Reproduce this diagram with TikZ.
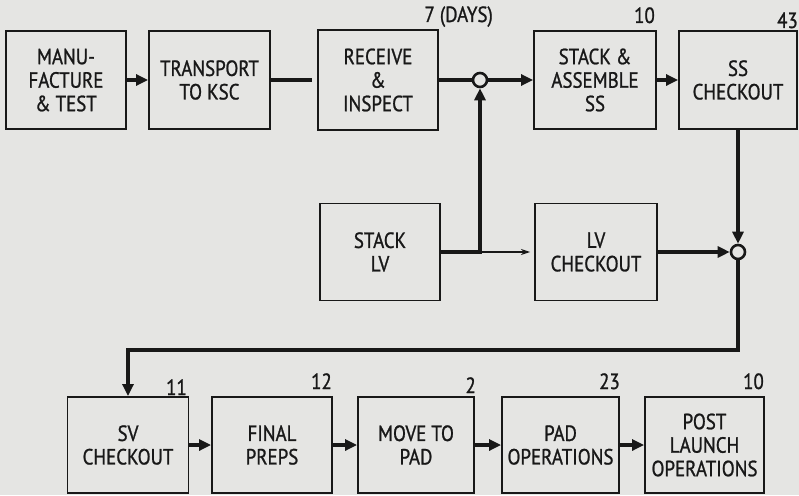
\documentclass[tikz,border=0pt]{standalone}
\usepackage{fontspec}
\setmainfont{PT Sans}[FakeStretch=0.86, FakeBold=1]
\usepackage{tikz}
\usetikzlibrary{arrows.meta,positioning}
\definecolor{paper}{RGB}{229, 229, 227}
\definecolor{ink}{RGB}{24, 24, 24}

\begin{document}
\begin{tikzpicture}[x=1pt, y=-1pt,
    box/.style={rectangle, draw=ink, line width=1.9pt, minimum width=120pt, minimum height=98pt, align=center, text=ink, inner sep=0pt, font=\fontsize{22}{23.5}\selectfont},
    arrow/.style={-{Triangle[length=12pt,width=11pt]}, line width=3.6pt, draw=ink},
    thinarrow/.style={-{Stealth[length=9pt,width=6pt]}, line width=2.5pt, draw=ink},
    link/.style={line width=3.6pt, draw=ink},
    junction/.style={circle, draw=ink, fill=paper, line width=2.6pt, minimum size=14pt, inner sep=0pt},
    days/.style={text=ink, inner sep=0pt, font=\fontsize{22}{23.5}\selectfont}
]
\fill[paper] (0,0) rectangle (799,495);
\useasboundingbox (0,0) rectangle (799,495);

% Nodes
\node[box] (manu) at (66,80) {MANU-\\FACTURE\\\& TEST};
\node[box, minimum width=121pt] (transport) at (209.5,80) {TRANSPORT\\TO KSC};
\node[box, minimum height=100pt] (receive) at (378,80) {RECEIVE\\\&\\INSPECT};
\node[box, minimum width=122pt] (stackss) at (595,80) {STACK \&\\ASSEMBLE\\SS};
\node[box, minimum width=118pt] (sscheck) at (738,80) {SS\\CHECKOUT};
\node[junction] (j1) at (480,80) {};

\node[box, minimum height=97pt] (stacklv) at (380,252) {STACK\\LV};
\node[box, minimum width=122pt, minimum height=97pt] (lvcheck) at (596,252) {LV\\CHECKOUT};
\node[junction] (j2) at (738,252) {};

\node[box, minimum width=121pt, minimum height=96pt] (svcheck) at (128,445) {SV\\CHECKOUT};
\node[box, minimum height=96pt] (final) at (272,445) {FINAL\\PREPS};
\node[box, minimum width=116pt, minimum height=96pt] (move) at (416,445) {MOVE TO\\PAD};
\node[box, minimum width=117pt, minimum height=96pt] (pad) at (560.5,445) {PAD\\OPERATIONS};
\node[box, minimum width=119pt, minimum height=96pt] (post) at (704.5,445) {POST\\LAUNCH\\OPERATIONS};

% Days
\node[days, anchor=base east] (d-receive) at (493,22) {7 (DAYS)};
\node[days, anchor=base east] (d-stackss) at (655,23) {10};
\node[days, anchor=base east] (d-sscheck) at (798,28) {43};
\node[days, anchor=base east] (d-svcheck) at (187,395) {11};
\node[days, anchor=base east] (d-final) at (332,389) {12};
\node[days, anchor=base east] (d-move) at (476,393) {2};
\node[days, anchor=base east] (d-pad) at (620,389) {23};
\node[days, anchor=base east] (d-post) at (764,389) {10};

% Arrows
\draw[arrow] (manu) -- (transport);
\draw[link, shorten >=5pt] (transport) -- (receive);
\draw[link] (receive) -- (j1);
\draw[arrow] (j1) -- (stackss);
\draw[arrow] (stackss) -- (sscheck);
\draw[thinarrow, shorten >=4pt] (stacklv) -- (lvcheck);
\draw[arrow] (stacklv.east) -| (j1);
\draw[arrow] (sscheck) -- (j2);
\draw[arrow] (lvcheck) -- (j2);
\coordinate (turn) at (738,350);
\draw[arrow] (j2) -- (turn) -| (svcheck);
\draw[arrow] (svcheck) -- (final);
\draw[arrow] (final) -- (move);
\draw[arrow] (move) -- (pad);
\draw[arrow] (pad) -- (post);
\end{tikzpicture}
\end{document}
